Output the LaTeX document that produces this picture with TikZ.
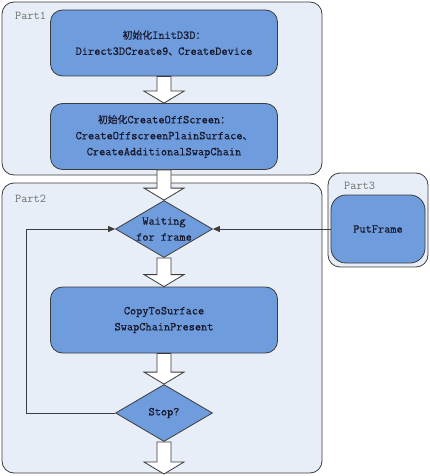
\documentclass[tikz,border=0pt]{standalone}
\usepackage{fontspec}
\newfontfamily\cjk[Scale=0.82,FakeBold=0.6]{Noto Sans CJK SC}
\newfontfamily\boxfont[FakeBold=0.6]{Latin Modern Mono}
\usetikzlibrary{shapes.geometric,arrows.meta,calc}
\definecolor{boxblue}{RGB}{110,156,220}
\definecolor{partbg}{RGB}{232,238,248}
\definecolor{edgegray}{RGB}{60,60,60}
\definecolor{labelgray}{RGB}{110,110,110}
\definecolor{textdark}{RGB}{25,25,45}

% hollow block arrow from node #1 down to node #2
\newcommand{\hollowarrow}[2]{%
  \draw[flowarrow] ($(#1)+(-7,0)$) -- ($(#2)+(-7,-12)$) -- ($(#2)+(-20,-12)$) -- (#2)
    -- ($(#2)+(20,-12)$) -- ($(#2)+(7,-12)$) -- ($(#1)+(7,0)$) -- cycle;}

\begin{document}
\begin{tikzpicture}[x=1pt,y=-1pt,
  font=\ttfamily\fontsize{12}{16}\selectfont,
  part/.style={draw=edgegray,fill=partbg,rounded corners=12pt,line width=0.8pt},
  partlabel/.style={text=labelgray,anchor=west,inner sep=0pt},
  task/.style={draw=edgegray,fill=boxblue,rounded corners=12pt,minimum width=227pt,
    minimum height=66pt,align=center,text=textdark,line width=0.8pt,
    font=\boxfont\fontsize{12}{16}\selectfont},
  decide/.style={draw=edgegray,fill=boxblue,diamond,minimum width=97pt,
    minimum height=57pt,inner sep=0pt,line width=0.8pt},
  decidetext/.style={align=center,text=textdark,font=\boxfont\fontsize{12}{16}\selectfont},
  flowarrow/.style={draw=edgegray,fill=white,line width=0.8pt},
  loopline/.style={draw=edgegray,line width=0.8pt,-{Triangle[length=7pt,width=6pt]}}]
\useasboundingbox (0,0) rectangle (430,476);

% the three parts
\draw[part] (2,2) rectangle (322,175);
\node[partlabel] (p1) at (15,16) {Part1};
\draw[part] (2,183) rectangle (322,473);
\node[partlabel] (p2) at (15,199) {Part2};
\draw[part] (328,173) rectangle (428,267);
\node[partlabel] (p3) at (344,186) {Part3};

% steps
\node[task] (init) at (164,43) {{\cjk 初始化}InitD3D{\cjk ：}\\Direct3DCreate9{\cjk 、}CreateDevice};
\node[task] (offscr) at (164,136.5) {{\cjk 初始化}CreateOffScreen{\cjk ：}\\CreateOffscreenPlainSurface{\cjk 、}\\CreateAdditionalSwapChain};
\node[decide,label={[decidetext]center:Waiting\\for frame}] (wait) at (164,229) {};
\node[task] (copy) at (164,320) {CopyToSurface\\SwapChainPresent};
\node[decide,label={[decidetext]center:Stop?}] (stop) at (164,413) {};
\node[task,minimum width=94pt,minimum height=68pt,rounded corners=15pt] (put) at (378,229) {PutFrame};
\coordinate (out) at (164,474);

% block arrows
\hollowarrow{init.south}{offscr.north}
\hollowarrow{offscr.south}{wait.north}
\hollowarrow{wait.south}{copy.north}
\hollowarrow{copy.south}{stop.north}
\hollowarrow{stop.south}{out}

% loop back and frame input
\draw[loopline] (stop.west) -- (26,413) -- (26,229) -- (wait.west);
\draw[loopline] (put.west) -- (wait.east);
\end{tikzpicture}
\end{document}
